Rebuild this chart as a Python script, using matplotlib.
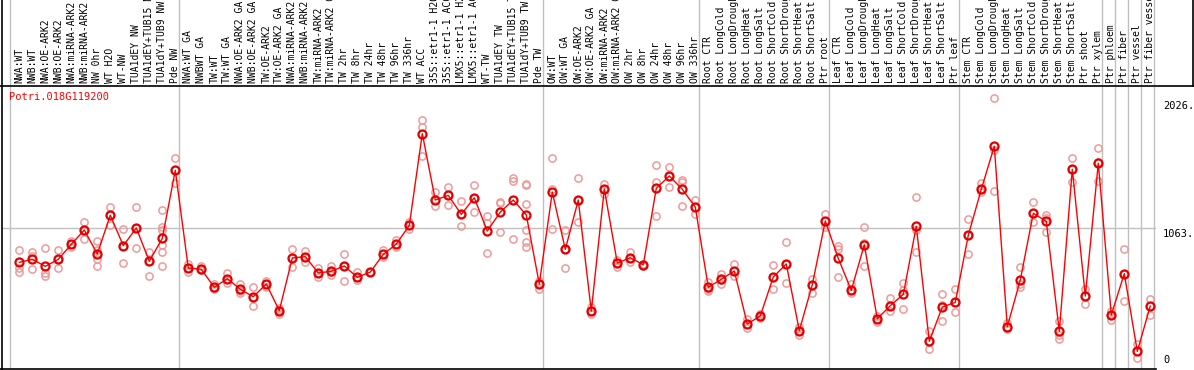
import matplotlib
matplotlib.use('Agg')
import matplotlib.pyplot as plt

# sample groups (label, mean, replicates)
grp_nw = ['NWA:WT', 'NWB:WT', 'NWA:OE-ARK2', 'NWB:OE-ARK2', 'NWA:miRNA-ARK2', 'NWB:miRNA-ARK2',
          'NW 0hr', 'WT H2O', 'WT-NW', 'TUA1dEY NW', 'TUA1dEY+TUB15 NW', 'TUA1dY+TUB9 NW', 'Pde NW']
grp_tw = ['NWA:WT GA', 'NWBWT GA', 'TW:WT', 'TW:WT GA', 'NWA:OE-ARK2 GA', 'NWB:OE-ARK2 GA',
          'TW:OE-ARK2', 'TW:OE-ARK2 GA', 'NWA:miRNA-ARK2 GA', 'NWB:miRNA-ARK2 GA', 'TW:miRNA-ARK2',
          'TW:miRNA-ARK2 GA', 'TW 2hr', 'TW 8hr', 'TW 24hr', 'TW 48hr', 'TW 96hr', 'TW 336hr',
          'WT ACC', '35S::etr1-1 H2O', '35S::etr1-1 ACC', 'LMX5::etr1-1 H2O', 'LMX5::etr1-1 ACC',
          'WT-TW', 'TUA1dEY TW', 'TUA1dEY+TUB15 TW', 'TUA1dY+TUB9 TW', 'Pde TW']
grp_ow = ['OW:WT', 'OW:WT GA', 'OW:OE-ARK2', 'OW:OE-ARK2 GA', 'OW:miRNA-ARK2', 'OW:miRNA-ARK2 GA',
          'OW 2hr', 'OW 8hr', 'OW 24hr', 'OW 48hr', 'OW 96hr', 'OW 336hr']
grp_root = ['Root CTR', 'Root LongCold', 'Root LongDrought', 'Root LongHeat', 'Root LongSalt',
            'Root ShortCold', 'Root ShortDrought', 'Root ShortHeat', 'Root ShortSalt', 'Ptr root']
grp_leaf = ['Leaf CTR', 'Leaf LongCold', 'Leaf LongDrought', 'Leaf LongHeat', 'Leaf LongSalt',
            'Leaf ShortCold', 'Leaf ShortDrought', 'Leaf ShortHeat', 'Leaf ShortSalt', 'Ptr leaf']
grp_stem = ['Stem CTR', 'Stem LongCold', 'Stem LongDrought', 'Stem LongHeat', 'Stem LongSalt',
            'Stem ShortCold', 'Stem ShortDrought', 'Stem ShortHeat', 'Stem ShortSalt',
            'Ptr shoot', 'Ptr xylem']
grp_ptr = [['Ptr phloem'], ['Ptr fiber'], ['Ptr vessel'], ['Ptr fiber vessel']]

groups = [grp_nw, grp_tw, grp_ow, grp_root, grp_leaf, grp_stem] + grp_ptr
labels = [s for g in groups for s in g]

means = [804, 827, 774, 827, 940, 1048, 867, 1159, 930, 1063, 812, 985, 1498,
         761, 752, 616, 681, 601, 545, 641, 440, 837, 847, 724, 737, 777, 691, 731, 864, 942,
         1083, 1774, 1274, 1309, 1166, 1291, 1040, 1183, 1274, 1161, 641,
         1334, 902, 1274, 437, 1357, 799, 839, 786, 1362, 1455, 1355, 1221,
         616, 676, 739, 339, 400, 694, 792, 289, 636, 1116,
         834, 593, 937, 379, 477, 563, 1076, 209, 467, 503,
         1008, 1355, 1679, 319, 671, 1174, 1113, 284, 1506, 550, 1551,
         407, 719, 133, 475]

reps = [[895, 759, 734], [882, 854, 752], [910, 721, 701], [895, 827, 759], [967, 940, 917],
        [1106, 1048, 980], [965, 897, 827, 779], [1221, 1159, 1086], [1053, 930, 799],
        [1221, 1063, 912], [882, 812, 701], [1196, 1073, 1048, 933, 884, 777], [1588, 1498, 1400],
        [792, 761, 731], [777, 752, 745], [639, 610, 601], [721, 675, 651], [639, 590, 576],
        [616, 545, 475], [663, 641, 621], [457, 445, 412], [903, 837, 772], [890, 847, 809],
        [764, 724, 691], [779, 730, 707], [867, 777, 663], [734, 691, 669], [735, 731, 728],
        [897, 864, 842], [975, 942, 917], [1109, 1083, 1058], [1877, 1824, 1608],
        [1334, 1274, 1229], [1369, 1309, 1234], [1264, 1166, 1078], [1384, 1291, 1183],
        [1153, 1098, 875], [1259, 1253, 1035], [1440, 1420, 980],
        [1395, 1387, 1241, 1048, 960, 917], [663, 641, 606],
        [1588, 1355, 1053], [1048, 902, 761], [1440, 1274, 1106], [470, 437, 415],
        [1395, 1357, 1317], [822, 799, 772], [880, 839, 804], [792, 786, 780],
        [1538, 1410, 1153], [1520, 1455, 1374], [1425, 1410, 1229], [1274, 1221, 1166],
        [658, 600, 588], [719, 669, 641], [792, 739, 704], [375, 339, 307], [415, 400, 385],
        [782, 694, 603], [955, 792, 646], [320, 289, 256], [676, 636, 575], [1168, 1116, 1073],
        [930, 902, 691], [641, 593, 571], [1068, 952, 777], [400, 379, 352], [533, 477, 435],
        [646, 596, 450], [1294, 1048, 884], [284, 209, 148], [565, 482, 362], [601, 503, 427],
        [1129, 1008, 867], [1400, 1355, 1337], [2041, 1651, 1340], [344, 319, 299],
        [767, 640, 621], [1262, 1174, 1111], [1159, 1140, 1035], [362, 260, 229],
        [1588, 1506, 1412], [606, 550, 488], [1664, 1560, 1420],
        [435, 407, 369], [905, 719, 515], [188, 133, 81], [525, 475, 405]]

gene = 'Potri.018G119200'
ymax = 2126
ytick_vals = [2026, 1063, 0]
ytick_text = ['2026.', '1063.', '0']

W, H = 1194, 370
fig = plt.figure(figsize=(W / 100, H / 100), dpi=100)
mono = 'DejaVu Sans Mono'
fs = 7

x0, dx = 19.3, 13.0   # pixel position of first sample and spacing
def px2i(p):
    return (p - x0) / dx

# main plot
ax = fig.add_axes([1 / W, 1 / H, 1155 / W, 282 / H])
ax.set_xlim(px2i(1), px2i(1156))
ax.set_ylim(0, ymax)
ax.axis('off')

xs = list(range(len(labels)))
for i, r in enumerate(reps):
    ax.plot([i] * len(r), r, 'o', mfc='none', mec='#ef9a9a', ms=5.2, mew=1.1, zorder=2)
ax.plot(xs, means, '-', color='red', lw=1, zorder=3)
ax.plot(xs, means, 'o', mfc='none', mec='#e00000', ms=5.8, mew=1.6, zorder=4)

ax.axhline(1063, color='#c0c0c0', lw=1, zorder=1)
start = 0
seps = []
for g in groups:
    seps.append(start - 0.7)
    start += len(g)
seps.append(start - 0.7)
for s in seps:
    ax.axvline(s, color='#c0c0c0', lw=1, zorder=1)

ax.text(px2i(9), 2126 * (1 - 10 / 282), gene, color='red', fontsize=fs + 0.5,
        family=mono, va='center', ha='left')

# header with labels
hdr = fig.add_axes([0, (H - 86) / H, 1, 86 / H])
hdr.set_xlim(px2i(0), px2i(W))
hdr.set_ylim(0, 1)
hdr.axis('off')
for s in seps:
    hdr.axvline(s, color='#c0c0c0', lw=1)
for i, lab in enumerate(labels):
    t = hdr.text(i, 0.03, lab, rotation=90, ha='center', va='bottom', fontsize=fs,
                 family=mono, clip_on=True)

# frame lines
fig.add_artist(plt.Line2D([1.5 / W, 1.5 / W], [0, 1], color='black', lw=1.2))
fig.add_artist(plt.Line2D([0, 1], [(H - 86) / H, (H - 86) / H], color='black', lw=1.2))
fig.add_artist(plt.Line2D([0, 1156 / W], [1 / H, 1 / H], color='black', lw=1.2))
fig.add_artist(plt.Line2D([(W - 1.5) / W] * 2, [(H - 86) / H, 1], color='black', lw=1.2))

# value labels on the right
for v, s in zip(ytick_vals, ytick_text):
    yp = 369 - v / ymax * 282
    if v == 0:
        fig.text(1163 / W, (H - yp + 4) / H, s, fontsize=fs + 0.5, family=mono, va='bottom')
    else:
        fig.text(1163 / W, (H - yp - 1) / H, s, fontsize=fs + 0.5, family=mono, va='top')

fig.savefig('out.png', dpi=100)
